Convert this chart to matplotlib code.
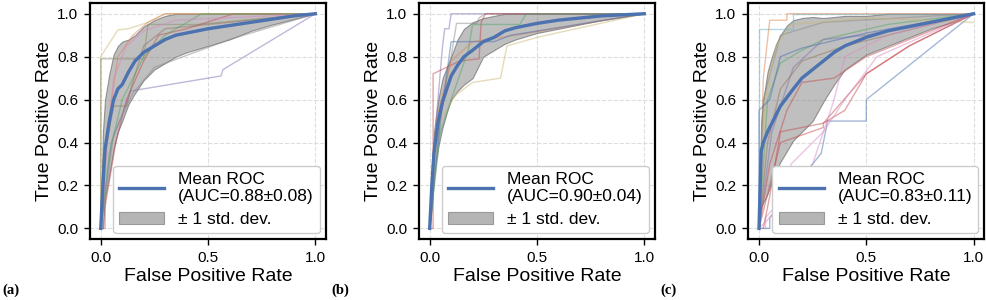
import numpy as np
import matplotlib
matplotlib.use('Agg')
import matplotlib.pyplot as plt
from matplotlib.patches import Patch
from matplotlib.lines import Line2D

plt.rcParams['font.family'] = ['Liberation Sans', 'DejaVu Sans']

# common fpr grid for the mean curve and the +/- 1 std band
fpr_grid = [0, 0.01, 0.02, 0.04, 0.06, 0.08, 0.1, 0.13, 0.16, 0.2, 0.25,
            0.3, 0.35, 0.4, 0.5, 0.6, 0.7, 0.8, 0.9, 1.0]

# panel (a)
mean_a = [0, 0.2, 0.37, 0.5, 0.6, 0.65, 0.67, 0.73, 0.78, 0.82, 0.85,
          0.88, 0.9, 0.91, 0.93, 0.945, 0.96, 0.975, 0.99, 1.0]
upper_a = [0, 0.45, 0.6, 0.72, 0.81, 0.85, 0.87, 0.88, 0.9, 0.94, 0.97,
           0.99, 1.0, 1.0, 1.0, 1.0, 1.0, 1.0, 1.0, 1.0]
lower_a = [0, 0.0, 0.14, 0.25, 0.37, 0.45, 0.5, 0.58, 0.63, 0.69, 0.74,
           0.77, 0.8, 0.82, 0.85, 0.88, 0.92, 0.95, 0.975, 1.0]
auc_a = '0.88±0.08'
folds_a = [
    ([0, 0, 0.08, 0.13, 0.22, 0.3, 1], [0, 0.8, 0.925, 0.93, 0.96, 1, 1]),
    ([0, 0, 0.2, 0.22, 0.45, 1], [0, 0.79, 0.79, 0.95, 0.95, 1]),
    ([0.02, 0.02, 0.07, 0.12, 0.2, 0.27, 0.4, 0.62, 1], [0, 0.1, 0.4, 0.6, 0.78, 0.9, 0.93, 1, 1]),
    ([0, 0.02, 0.05, 0.08, 0.15, 0.22, 0.3, 1], [0, 0.3, 0.6, 0.8, 0.9, 0.96, 1, 1]),
    ([0, 0.05, 0.14, 0.56, 0.57, 1], [0, 0.4, 0.64, 0.71, 0.74, 1]),
    ([0, 0.04, 0.1, 0.2, 0.3, 0.47, 1], [0, 0.35, 0.6, 0.8, 0.9, 1, 1]),
    ([0, 0.03, 0.06, 0.12, 0.2, 0.35, 1], [0, 0.4, 0.7, 0.85, 0.92, 0.97, 1]),
    ([0, 0.06, 0.15, 0.25, 0.6, 1], [0, 0.44, 0.63, 0.75, 0.88, 1]),
    ([0, 0.01, 0.06, 0.12, 0.14, 0.2, 0.3, 1], [0, 0.3, 0.57, 0.57, 0.65, 0.85, 0.93, 1]),
]
colors_a = ['#ccb974', '#8c8c6c', '#c44e52', '#dd8452', '#8172b3',
            '#55a868', '#da8bc3', '#8c8c8c', '#937860']

# panel (b)
mean_b = [0, 0.2, 0.35, 0.5, 0.59, 0.65, 0.71, 0.76, 0.8, 0.83, 0.87,
          0.89, 0.92, 0.935, 0.955, 0.97, 0.98, 0.99, 0.995, 1.0]
upper_b = [0, 0.3, 0.45, 0.6, 0.7, 0.75, 0.8, 0.88, 0.93, 0.96, 0.98,
           0.99, 1.0, 1.0, 1.0, 1.0, 1.0, 1.0, 1.0, 1.0]
lower_b = [0, 0.1, 0.25, 0.38, 0.47, 0.54, 0.6, 0.64, 0.67, 0.7, 0.8,
           0.83, 0.86, 0.88, 0.91, 0.93, 0.95, 0.97, 0.985, 1.0]
auc_b = '0.90±0.04'
folds_b = [
    ([0, 0.03, 0.06, 0.07, 0.09, 0.1, 1], [0, 0.5, 0.85, 0.93, 0.93, 1.0, 1]),
    ([0, 0.05, 0.1, 0.125, 0.22, 0.23, 0.26, 1], [0, 0.55, 0.8, 0.955, 0.955, 0.98, 1, 1]),
    ([0, 0.016, 0.016, 0.14, 0.23, 0.24, 0.26, 1], [0, 0, 0.72, 0.78, 0.79, 0.96, 1, 1]),
    ([0, 0.05, 0.12, 0.2, 0.33, 0.36, 0.5, 1], [0, 0.5, 0.62, 0.68, 0.7, 0.85, 0.89, 1]),
    ([0, 0.05, 0.1, 0.18, 0.2, 0.42, 0.45, 1], [0, 0.45, 0.6, 0.83, 0.95, 0.95, 1, 1]),
    ([0, 0.03, 0.1, 0.2, 0.4, 1], [0, 0.5, 0.78, 0.87, 0.9, 1]),
    ([0, 0.05, 0.1, 0.3, 0.38, 1], [0, 0.5, 0.87, 0.87, 0.9, 1]),
]
colors_b = ['#8172b3', '#8c8c8c', '#c44e52', '#ccb974', '#55a868',
            '#dd8452', '#4c72b0']

# panel (c)
mean_c = [0, 0.36, 0.4, 0.45, 0.49, 0.53, 0.57, 0.61, 0.65, 0.7, 0.74,
          0.78, 0.82, 0.85, 0.89, 0.92, 0.94, 0.96, 0.98, 1.0]
upper_c = [0, 0.5, 0.6, 0.73, 0.8, 0.86, 0.9, 0.945, 0.97, 0.98, 0.985,
           0.98, 0.985, 0.99, 0.99, 1.0, 1.0, 1.0, 1.0, 1.0]
lower_c = [0, 0.1, 0.12, 0.16, 0.22, 0.27, 0.31, 0.36, 0.41, 0.45, 0.5,
           0.59, 0.67, 0.74, 0.81, 0.85, 0.89, 0.93, 0.96, 1.0]
auc_c = '0.83±0.11'
folds_c = [
    ([0, 0.05, 0.05, 0.29, 0.32, 0.5, 0.5, 1], [0, 0, 0.05, 0.35, 0.5, 0.5, 0.6, 1]),
    ([0, 0, 0.16, 0.16, 1], [0, 0.93, 0.93, 1.0, 1]),
    ([0, 0.02, 0.05, 0.13, 0.13, 1], [0, 0.7, 0.97, 0.97, 1.0, 1]),
    ([0, 0.04, 0.1, 0.2, 0.3, 0.6, 1], [0, 0.6, 0.77, 0.83, 0.88, 0.95, 1]),
    ([0, 0.1, 0.3, 0.3, 0.5, 0.7, 1], [0, 0.4, 0.47, 0.49, 0.72, 0.85, 1]),
    ([0, 0.06, 0.16, 0.3, 0.5, 1], [0, 0.45, 0.75, 0.88, 0.9, 1]),
    ([0, 0.04, 0.1, 0.2, 0.4, 1], [0, 0.4, 0.65, 0.78, 0.85, 1]),
    ([0.03, 0.03, 0.25, 0.35, 0.4, 0.6, 1], [0, 0.05, 0.3, 0.6, 0.8, 0.9, 1]),
    ([0, 0.02, 0.1, 0.3, 1], [0, 0.6, 0.9, 0.96, 1]),
    ([0, 0.03, 0.08, 0.15, 0.5, 1], [0, 0.6, 0.85, 0.95, 0.98, 0.96]),
    ([0, 0.0, 0.05, 0.1, 0.2, 0.5, 1], [0, 0.55, 0.6, 0.8, 0.84, 0.91, 1]),
    ([0.02, 0.05, 0.1, 0.2, 0.3, 0.4, 0.5, 0.7, 1], [0, 0.15, 0.45, 0.47, 0.49, 0.55, 0.72, 0.85, 1]),
    ([0, 0.05, 0.13, 0.2, 0.35, 0.5, 1], [0, 0.3, 0.55, 0.68, 0.7, 0.8, 1]),
    ([0, 0.1, 0.15, 0.3, 0.4, 0.55, 1], [0, 0.1, 0.3, 0.45, 0.6, 0.8, 1]),
]
colors_c = ['#4c72b0', '#64b5cd', '#dd8452', '#55a868', '#c44e52', '#8172b3',
            '#937860', '#da8bc3', '#8c8c8c', '#ccb974', '#4c72b0', '#c44e52',
            '#c44e52', '#da8bc3']

panel_letters = ['(a)', '(b)', '(c)']
axes_left = [0.0913, 0.4249, 0.7589]


def draw_panel(ax, folds, colors, mean, upper, lower, auc):
    for (f, t), c in zip(folds, colors):
        ax.plot(f, t, color=c, lw=1, alpha=0.5)
    ax.fill_between(fpr_grid, lower, upper, facecolor='grey', alpha=0.5,
                    edgecolor='#444444', lw=0.8)
    ax.plot(fpr_grid, mean, color='#4c72b0', lw=2.4)

    ax.set_xlim(-0.05, 1.05)
    ax.set_ylim(-0.05, 1.05)
    ax.set_xticks([0, 0.5, 1.0])
    ax.set_yticks([0, 0.2, 0.4, 0.6, 0.8, 1.0])
    ax.grid(True, ls='--', color='#dddddd', lw=0.8)
    ax.set_axisbelow(True)
    for s in ax.spines.values():
        s.set_linewidth(1.6)
        s.set_color('black')
    ax.tick_params(direction='out', length=4.5, width=1, pad=4, labelsize=11)
    ax.set_xlabel('False Positive Rate', fontsize=14, labelpad=2)
    ax.set_ylabel('True Positive Rate', fontsize=14, labelpad=3)

    handles = [Line2D([], [], color='#4c72b0', lw=2.4),
               Patch(facecolor='#b5b5b5', edgecolor='#999999', lw=0.8)]
    labels = ['Mean ROC\n(AUC=' + auc + ')', '± 1 std. dev.']
    leg = ax.legend(handles, labels, loc='lower right', fontsize=12.5,
                    handlelength=2.6, borderpad=0.35, labelspacing=0.45,
                    handletextpad=0.8, borderaxespad=0.35, framealpha=1)
    leg.get_frame().set_edgecolor('#cccccc')


fig = plt.figure(figsize=(9.86, 3.0), dpi=100)
panels = [
    (folds_a, colors_a, mean_a, upper_a, lower_a, auc_a),
    (folds_b, colors_b, mean_b, upper_b, lower_b, auc_b),
    (folds_c, colors_c, mean_c, upper_c, lower_c, auc_c),
]
for i, p in enumerate(panels):
    ax = fig.add_axes([axes_left[i], 0.203, 0.2394, 0.787])
    draw_panel(ax, *p)
    fig.text(axes_left[i] - 0.089, 0.022, panel_letters[i],
             family=['Liberation Serif', 'DejaVu Serif'], weight='bold', fontsize=10.5)

fig.savefig('out.png', dpi=100)
